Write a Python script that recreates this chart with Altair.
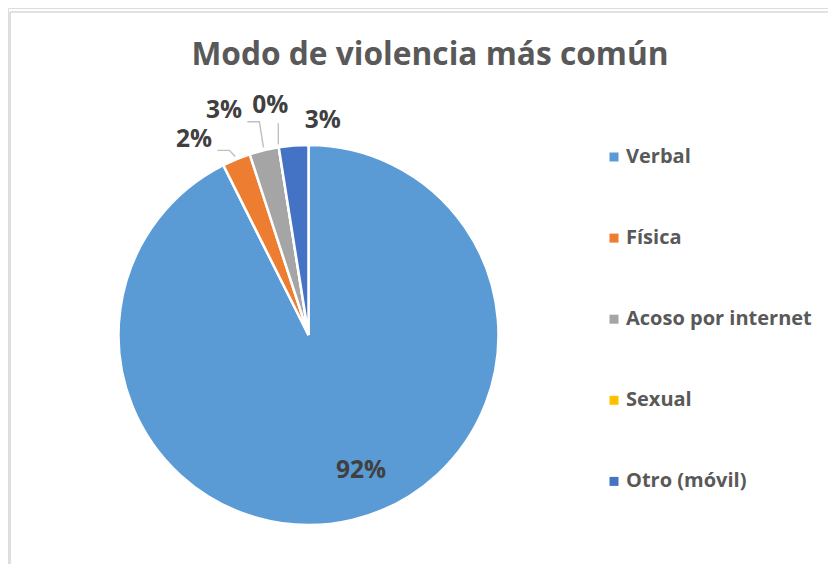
import altair as alt
import numpy as np
import pandas as pd

# ---- data ----
categories = ["Verbal", "Física", "Acoso por internet", "Sexual", "Otro (móvil)"]
shares = [92.6, 2.4, 2.5, 0.0, 2.5]
labels = ["92%", "2%", "3%", "0%", "3%"]
colors = ["#5B9BD5", "#ED7D31", "#A5A5A5", "#FFC000", "#4472C4"]
title_text = "Modo de violencia más común"

# ---- layout (pixels, plot-area coordinates) ----
W, H = 820, 556
CX, CY, R = 300.5, 327.0, 190.0
LABEL_FS = 24.5
FONT = "Open Sans"
# label nudges relative to the default position on the slice's mid-angle
NUDGE = {
    "Verbal": (19, -6),
    "Física": (-29, 13),
    "Acoso por internet": (-32, -5),
    "Sexual": (-3, -7),
    "Otro (móvil)": (32, 10),
}
LEADER = {"Física", "Acoso por internet", "Sexual"}

df = pd.DataFrame({"cat": categories, "share": shares, "label": labels,
                   "idx": list(range(len(categories)))})
frac = np.array(shares) / sum(shares)
end = np.cumsum(frac)
start = end - frac
mid = (start + end) / 2 * 2 * np.pi

lx, ly = [], []
lines = []
for i, c in enumerate(categories):
    inside = frac[i] > 0.5
    rad = 146 if inside else 225
    x = CX + rad * np.sin(mid[i]) + NUDGE[c][0]
    y = CY - rad * np.cos(mid[i]) + NUDGE[c][1]
    lx.append(x)
    ly.append(y)
    if c in LEADER:
        ex = CX + (R + 3) * np.sin(mid[i])
        ey = CY - (R + 3) * np.cos(mid[i])
        half_w = len(labels[i]) * 0.71 * LABEL_FS / 2
        bottom = y + 0.43 * LABEL_FS
        right = x + half_w
        if ex > right:
            pts = [(ex, ey), (right + 18, bottom), (right + 6, bottom)]
        else:
            pts = [(ex, ey), (ex, bottom + 7)]
        for k, (px, py) in enumerate(pts):
            lines.append({"cat": c, "o": k, "px": px, "py": py})
df["lx"] = lx
df["ly"] = ly
lines_df = pd.DataFrame(lines)

color_scale = alt.Scale(domain=categories, range=colors)

pie = alt.Chart(df).mark_arc(outerRadius=R, stroke="white", strokeWidth=2.5).encode(
    theta=alt.Theta("share:Q", stack=True),
    order=alt.Order("idx:Q"),
    color=alt.Color(
        "cat:N", scale=color_scale, sort=categories,
        legend=alt.Legend(
            orient="none", legendX=596, legendY=139, title=None,
            symbolType="square", symbolSize=81, symbolStrokeWidth=0,
            labelFont=FONT, labelFontSize=20, labelFontWeight="bold",
            labelColor="#595959", labelOffset=2, labelLimit=400,
            rowPadding=61.1, padding=0,
        ),
    ),
    x=alt.value(CX),
    y=alt.value(CY),
)

leaders = alt.Chart(lines_df).mark_line(color="#BFBFBF", strokeWidth=1.4).encode(
    x=alt.X("px:Q", scale=None),
    y=alt.Y("py:Q", scale=None),
    detail="cat:N",
    order="o:Q",
)

text = alt.Chart(df).mark_text(
    font=FONT, fontSize=LABEL_FS, fontWeight="bold", color="#404040",
    align="center", baseline="middle",
).encode(
    x=alt.X("lx:Q", scale=None),
    y=alt.Y("ly:Q", scale=None),
    text="label:N",
)

frame_df = pd.DataFrame({"a": [0]})
left_edge = alt.Chart(frame_df).mark_rule(color="#D9D9D9", strokeWidth=1.6).encode(
    x=alt.value(2), y=alt.value(4), y2=alt.value(H)
)
top_edge = alt.Chart(frame_df).mark_rule(color="#D9D9D9", strokeWidth=1.6).encode(
    x=alt.value(2), x2=alt.value(W), y=alt.value(4)
)

chart = alt.layer(left_edge, top_edge, pie, leaders, text).properties(
    width=W, height=H,
    autosize=alt.AutoSizeParams(type="none"),
    padding=0,
    title=alt.TitleParams(
        title_text, font=FONT, fontSize=31.7, fontWeight="bold", color="#595959",
        anchor="middle", frame="group", dx=12, dy=89, offset=0, baseline="alphabetic",
    ),
).configure_view(stroke=None).configure(background="white")

chart.save("out.html", embed_options={"renderer": "svg", "actions": False})
